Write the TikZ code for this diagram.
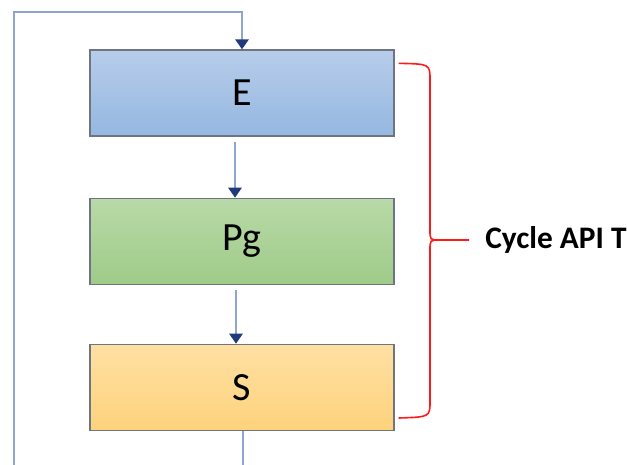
\documentclass[tikz,border=0pt]{standalone}
\usepackage{fontspec}
\setmainfont{Carlito}
\usetikzlibrary{positioning,arrows.meta,calc}

\definecolor{flowline}{HTML}{8FA5CB}
\definecolor{flowtip}{HTML}{1F3B7B}
\definecolor{boxedge}{HTML}{6E7480}
\definecolor{bracered}{HTML}{FF1A1A}

\tikzset{
  stage/.style={draw=boxedge, line width=1pt, minimum width=228pt, minimum height=64.5pt,
    inner sep=0pt, font=\fontsize{30}{32}\selectfont},
  flow/.style={draw=flowline, line width=1.4pt, -{Triangle[width=10pt,length=7.5pt,color=flowtip]}},
}

\begin{document}
\begin{tikzpicture}[x=0.75pt, y=-0.75pt, node distance=45.75pt]
  \useasboundingbox (0,0) rectangle (627,464);

  % the three stages
  \node[stage, top color={rgb,255:red,183;green,205;blue,234},
        bottom color={rgb,255:red,149;green,183;blue,225}] (E) at (242,93) {E};
  \node[stage, below=of E, top color={rgb,255:red,184;green,217;blue,168},
        bottom color={rgb,255:red,159;green,203;blue,136}] (Pg) {Pg};
  \node[stage, below=44pt of Pg, top color={rgb,255:red,255;green,224;blue,163},
        bottom color={rgb,255:red,253;green,210;blue,124}] (S) {S};

  % flow between the stages
  \draw[flow] ([xshift=-5.25pt,yshift=-3.75pt]E.south) -- ([xshift=-5.25pt]Pg.north);
  \draw[flow] ([xshift=-4.5pt,yshift=-3.75pt]Pg.south) -- ([xshift=-4.5pt]S.north);
  \coordinate (sout) at (243,470);
  \draw[draw=flowline, line width=1.4pt] ([xshift=0.75pt]S.south) -- (sout);

  % loop back to E
  \coordinate (loopin) at (14,470);
  \coordinate (looptop) at (14,12);
  \draw[flow] (loopin) -- (looptop) -| (E.north);

  % brace
  \coordinate (brtip) at (469,240);
  \draw[bracered, line width=1.2pt]
    ($(E.north east)+(4,14)$) .. controls (430,64) .. (430,80) -- (430,230)
    .. controls (430,240) .. (440,240) -- (brtip);
  \draw[bracered, line width=1.2pt]
    ($(S.south east)+(4,-13)$) .. controls (430,417) .. (430,401) -- (430,250)
    .. controls (430,240) .. (440,240);
  \node[anchor=west, inner sep=0pt, font=\bfseries\fontsize{23.5}{25}\selectfont] (cyc)
    at ($(brtip)+(16,0)$) {Cycle API T};
\end{tikzpicture}
\end{document}
